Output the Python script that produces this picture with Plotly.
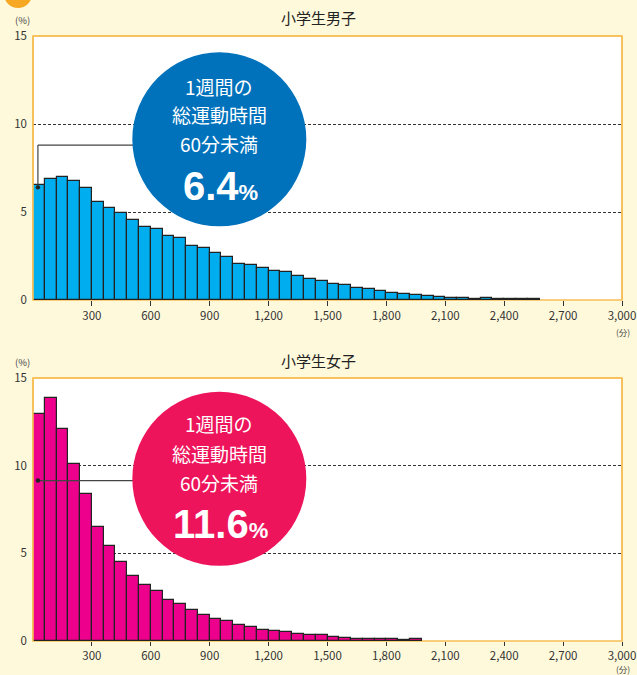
import plotly.graph_objects as go

# ---------------- data ----------------
bin_width = 60  # minutes per bar
boys_pct = [6.55, 6.88, 6.99, 6.76, 6.36, 5.55, 5.25, 4.92, 4.55, 4.17,
            4.05, 3.66, 3.50, 3.09, 2.97, 2.65, 2.42, 2.06, 2.01, 1.80,
            1.63, 1.57, 1.34, 1.19, 1.06, 0.91, 0.83, 0.68, 0.61, 0.49,
            0.42, 0.36, 0.27, 0.21, 0.17, 0.12, 0.10, 0.06, 0.09, 0.07,
            0.06, 0.06, 0.06]
girls_pct = [12.96, 13.85, 12.09, 10.12, 8.41, 6.48, 5.40, 4.52, 3.70, 3.21,
             2.83, 2.34, 2.12, 1.78, 1.49, 1.27, 1.13, 0.89, 0.81, 0.64,
             0.55, 0.49, 0.42, 0.36, 0.32, 0.23, 0.19, 0.13, 0.11, 0.11,
             0.09, 0.08, 0.09]
boys_under60 = 6.4
girls_under60 = 11.6
titles = ["小学生男子", "小学生女子"]
x_ticks = [300, 600, 900, 1200, 1500, 1800, 2100, 2400, 2700, 3000]
y_ticks = [0, 5, 10, 15]
circle_lines = ["1週間の", "総運動時間", "60分未満"]

# ---------------- styling ----------------
W, H = 637, 675
ML, MR, MT, MB = 33, 15, 36, 34
PW, PH = W - ML - MR, H - MT - MB
BG = "#FFF9DC"
BORDER = "#F7BE55"
BLUE, BLUE_C = "#00AEEF", "#0072BC"
PINK, PINK_C = "#EC008C", "#ED145B"
JP = "Noto Sans CJK JP"


def xp(px):
    return (px - ML) / PW


def yp(py):
    return (H - MB - py) / PH


top_dom = [yp(300), 1.0]
bot_dom = [0.0, yp(378)]

fig = go.Figure()

centers_b = [i * bin_width + bin_width / 2 for i in range(len(boys_pct))]
centers_g = [i * bin_width + bin_width / 2 for i in range(len(girls_pct))]

fig.add_trace(go.Bar(x=centers_b, y=boys_pct, width=bin_width,
                     marker=dict(color=BLUE, line=dict(color="#222222", width=1.2)),
                     xaxis="x", yaxis="y", showlegend=False))
fig.add_trace(go.Bar(x=centers_g, y=girls_pct, width=bin_width,
                     marker=dict(color=PINK, line=dict(color="#222222", width=1.2)),
                     xaxis="x2", yaxis="y2", showlegend=False))

xcommon = dict(range=[0, 3000], tickvals=x_ticks, tickformat=",d",
               ticks="outside", tickcolor="#333333", tickwidth=1,
               showgrid=False, zeroline=False, showline=False,
               ticklabeloverflow="allow", automargin=False,
               tickfont=dict(family=JP, size=11.5, color="#333333"), fixedrange=True)
ycommon = dict(range=[0, 15], tickvals=y_ticks, ticks="", showgrid=True,
               gridcolor="#333333", griddash="3px,2px", gridwidth=1,
               zeroline=False, showline=False, ticklabelstandoff=5,
               automargin=False,
               tickfont=dict(family=JP, size=11.5, color="#333333"), fixedrange=True)

fig.update_layout(
    width=W, height=H,
    margin=dict(l=ML, r=MR, t=MT, b=MB),
    paper_bgcolor=BG, plot_bgcolor="white",
    bargap=0,
    xaxis=dict(domain=[0, 1], anchor="y", ticklen=5, **xcommon),
    yaxis=dict(domain=top_dom, anchor="x", **ycommon),
    xaxis2=dict(domain=[0, 1], anchor="y2", ticklen=4, **xcommon),
    yaxis2=dict(domain=bot_dom, anchor="x2", **ycommon),
)

shapes = []
annotations = []

panels = [
    dict(xr="x", yr="y", title_py=17, pct_py=20, unit_py=332,
         circ_y=9.13, dot_y=boys_under60, line_y=8.8, col=BLUE_C,
         value=boys_under60, text_ys=[12.15, 10.55, 8.9, 6.5]),
    dict(xr="x2", yr="y2", title_py=360, pct_py=362, unit_py=668.5,
         circ_y=9.25, dot_y=9.15, line_y=9.15, col=PINK_C,
         value=girls_under60, text_ys=[12.4, 10.7, 9.05, 6.7]),
]

circ_x = 949
for i, p in enumerate(panels):
    xr, yr = p["xr"], p["yr"]
    # plot-area border (bottom below bars, other sides above)
    shapes.append(dict(type="rect", xref=f"{xr} domain", yref=f"{yr} domain",
                       x0=0, x1=1, y0=0, y1=1, layer="below",
                       line=dict(color=BORDER, width=1.6)))
    for (a0, a1, b0, b1) in [(0, 1, 1, 1), (0, 0, 0, 1), (1, 1, 0, 1)]:
        shapes.append(dict(type="line", xref=f"{xr} domain", yref=f"{yr} domain",
                           x0=a0, x1=a1, y0=b0, y1=b1, layer="above",
                           line=dict(color=BORDER, width=1.6)))
    # connector line
    if p["line_y"] != p["dot_y"]:
        shapes.append(dict(type="line", xref=xr, yref=yr, x0=25, x1=25,
                           y0=p["dot_y"], y1=p["line_y"],
                           line=dict(color="#444444", width=1.2)))
    shapes.append(dict(type="line", xref=xr, yref=yr, x0=25, x1=circ_x,
                       y0=p["line_y"], y1=p["line_y"],
                       line=dict(color="#444444", width=1.2)))
    shapes.append(dict(type="circle", xref=xr, yref=yr, xsizemode="pixel",
                       ysizemode="pixel", xanchor=25, yanchor=p["dot_y"],
                       x0=-2.2, x1=2.2, y0=-2.2, y1=2.2,
                       fillcolor="#222222", line=dict(width=0)))
    # circle
    shapes.append(dict(type="circle", xref=xr, yref=yr, xsizemode="pixel",
                       ysizemode="pixel", xanchor=circ_x, yanchor=p["circ_y"],
                       x0=-87, x1=87, y0=-87, y1=87,
                       fillcolor=p["col"], line=dict(width=0)))
    for txt, ty in zip(circle_lines, p["text_ys"][:3]):
        annotations.append(dict(xref=xr, yref=yr, x=circ_x, y=ty, text=txt,
                                xanchor="center", yanchor="middle",
                                showarrow=False,
                                font=dict(family=JP, size=19, color="white")))
    annotations.append(dict(
        xref=xr, yref=yr, x=circ_x + 8, y=p["text_ys"][3],
        xanchor="center", yanchor="middle",
        text=f"<b>{p['value']:.1f}</b><span style='font-size:22px'><b>%</b></span>",
        showarrow=False,
        font=dict(family="Liberation Sans", size=40, color="white")))
    # titles & units
    annotations.append(dict(xref="paper", yref="paper", x=xp(318), y=yp(p["title_py"]),
                            xanchor="center", yanchor="middle",
                            text=titles[i], showarrow=False,
                            font=dict(family=JP, size=15, color="#222222")))
    annotations.append(dict(xref="paper", yref="paper", x=xp(22), y=yp(p["pct_py"]),
                            xanchor="center", yanchor="middle",
                            text="(%)", showarrow=False,
                            font=dict(family=JP, size=9.5, color="#444444")))
    annotations.append(dict(xref="paper", yref="paper", x=xp(623), y=yp(p["unit_py"]),
                            xanchor="center", yanchor="middle",
                            text="(分)", showarrow=False,
                            font=dict(family=JP, size=8.5, color="#444444")))

# decorative orange tab in the top-left corner
shapes.append(dict(type="circle", xref="paper", yref="paper", xsizemode="pixel",
                   ysizemode="pixel", xanchor=xp(18), yanchor=yp(-6),
                   x0=-14, x1=14, y0=-14, y1=14, fillcolor="#F7A823",
                   line=dict(width=0)))

fig.update_layout(shapes=shapes, annotations=annotations)
fig.write_html("out.html")
